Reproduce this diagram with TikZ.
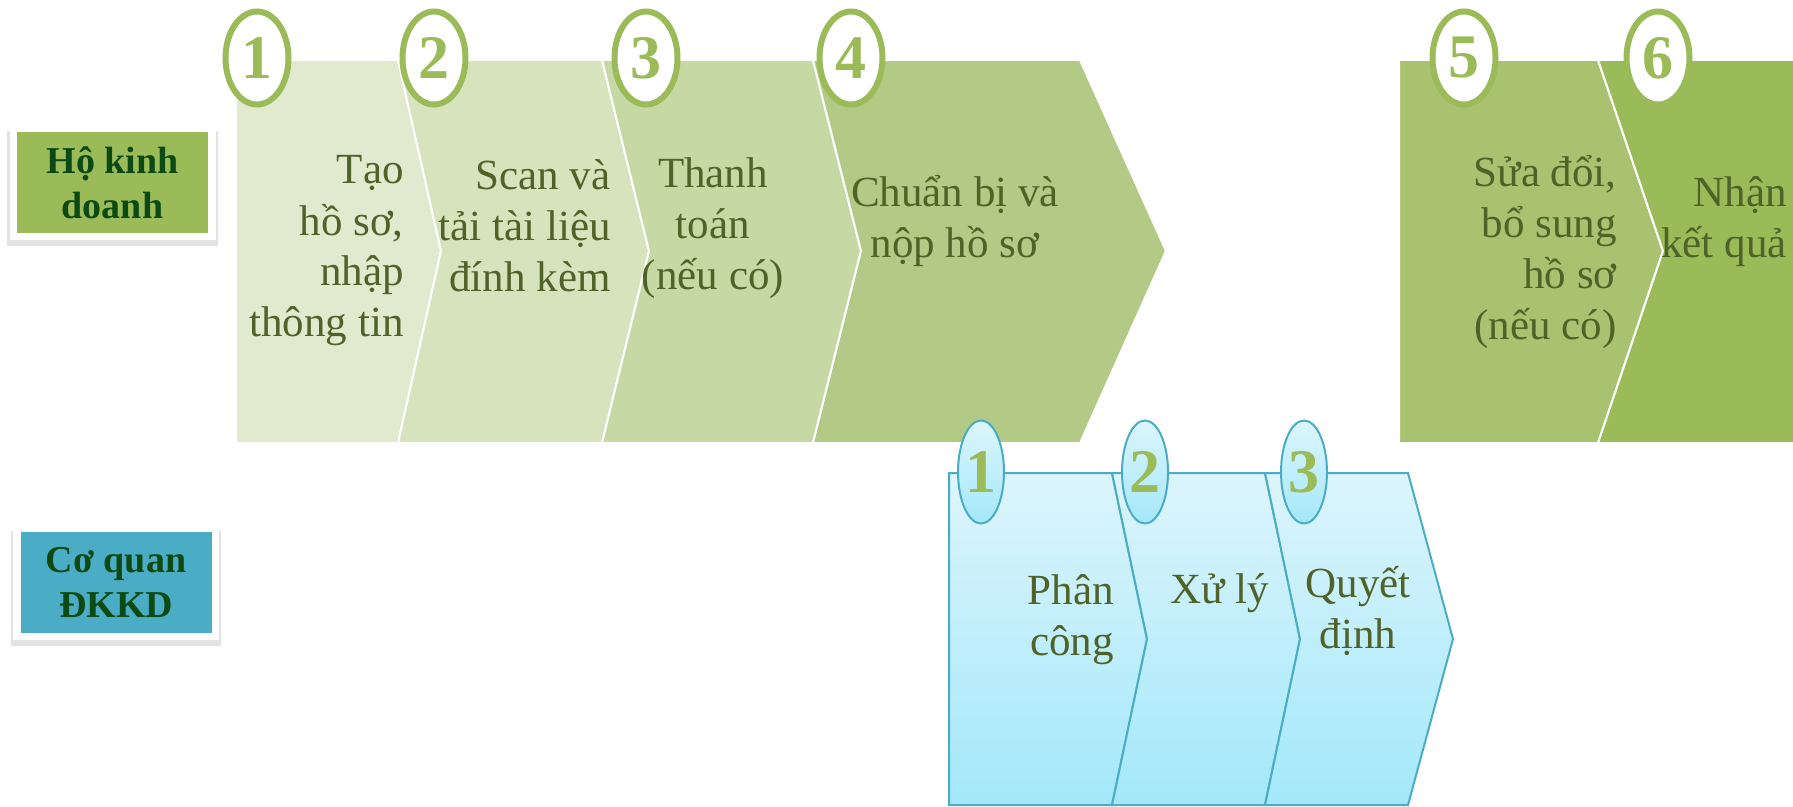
\documentclass[tikz,border=0pt]{standalone}
\usepackage{fontspec}
\setmainfont{Liberation Serif}
\usetikzlibrary{shapes.geometric,shadows}

\definecolor{olA}{HTML}{E1EACF}
\definecolor{olB}{HTML}{D6E3BC}
\definecolor{olC}{HTML}{C6D8A3}
\definecolor{olD}{HTML}{B3C986}
\definecolor{olE}{HTML}{A8C26F}
\definecolor{olF}{HTML}{9BBB59}
\definecolor{oltext}{HTML}{4F6228}
\definecolor{aqua}{HTML}{4BACC6}
\definecolor{aqtop}{HTML}{DDF5FC}
\definecolor{aqbot}{HTML}{A3E8FA}
\definecolor{lbltext}{HTML}{0B4A12}

\begin{document}
\begin{tikzpicture}[x=0.5pt,y=-0.5pt,
  steptext/.style={font=\fontsize{21.5}{25.5}\selectfont, text=oltext, inner sep=0pt},
  ring/.style={ellipse, draw=olF, line width=3pt, fill=white, minimum width=31.5pt, minimum height=46.5pt, inner sep=0pt, text=olF, font=\fontsize{31}{31}\selectfont\bfseries},
  bluering/.style={ellipse, draw=aqua, line width=1pt, top color=aqtop, bottom color=aqbot, minimum width=23pt, minimum height=51.5pt, inner sep=0pt, text=olF, font=\fontsize{31}{31}\selectfont\bfseries},
  lblbox/.style={draw=white, line width=3.75pt, minimum width=99.25pt, minimum height=54.25pt, align=center, text=lbltext, font=\fontsize{19}{22.5}\selectfont\bfseries, drop shadow={opacity=0.22, shadow scale=1.06, shadow xshift=0pt, shadow yshift=-3pt, rounded corners=2pt}}]

  \useasboundingbox (0,0) rectangle (1793,807);

  \def\ytop{60};
  \def\ybot{443};
  \def\ymid{251};

	%green steps
    \foreach \xa/\xb/\xc/\xd/\col in {236/236/398/441/olA, 398/441/602/649/olB, 602/649/813/861/olC, 813/861/1080/1166/olD, 1399/1399/1598/1663/olE, 1598/1663/1810/1810/olF}{
       \filldraw[fill=\col, draw=white, line width=1pt] (\xa,\ytop) -- (\xc,\ytop) -- (\xd,\ymid) -- (\xc,\ybot) -- (\xa,\ybot) -- (\xb,\ymid) -- cycle;
    }

 \def\ytop{473};
 \def\ybot{805};
 \def\ymid{639};

	%blue steps
    \foreach \xa/\xb/\xc/\xd in {949/949/1112/1147, 1112/1147/1265/1300, 1265/1300/1408/1453}{
       \draw[aqua, line width=1pt, top color=aqtop, bottom color=aqbot] (\xa,\ytop) -- (\xc,\ytop) -- (\xd,\ymid) -- (\xc,\ybot) -- (\xa,\ybot) -- (\xb,\ymid) -- cycle;
    }

	%index
    \foreach \i/\x in {1/257, 2/434, 3/646, 4/851, 5/1464, 6/1658}{
       \node[ring] (g\i) at (\x,58) {\i};
    }
    \foreach \i/\x in {1/981, 2/1145, 3/1304}{
       \node[bluering] (b\i) at (\x,472) {\i};
    }

	%labels
   \node[lblbox, fill=olF] (hkd) at (112.5,182.5) {Hộ kinh\\doanh};
   \node[lblbox, fill=aqua] (dkkd) at (116,582) {Cơ quan\\ĐKKD};

	%texts (anchored at the last line)
   \node[steptext, anchor=base east, align=right] (tao) at (404,337) {Tạo\\hồ sơ,\\nhập\\thông tin};
   \node[steptext, anchor=base east, align=right] (scan) at (611,292) {Scan và\\tải tài liệu\\đính kèm};
   \node[steptext, anchor=base, align=center] (tt) at (713,290) {Thanh\\toán\\(nếu có)};
   \node[steptext, anchor=base, align=center] (nop) at (955,258) {Chuẩn bị và\\nộp hồ sơ};
   \node[steptext, anchor=base east, align=right] (sua) at (1617,340) {Sửa đổi,\\bổ sung\\hồ sơ\\(nếu có)};
   \node[steptext, anchor=base east, align=right] (kq) at (1787,258) {Nhận\\kết quả};
   \node[steptext, anchor=base east, align=right] (pc) at (1114,655) {Phân\\công};
   \node[steptext, anchor=base] (xl) at (1220,603) {Xử lý};
   \node[steptext, anchor=base, align=center] (qd) at (1358,648) {Quyết\\định};

\end{tikzpicture}
\end{document}
